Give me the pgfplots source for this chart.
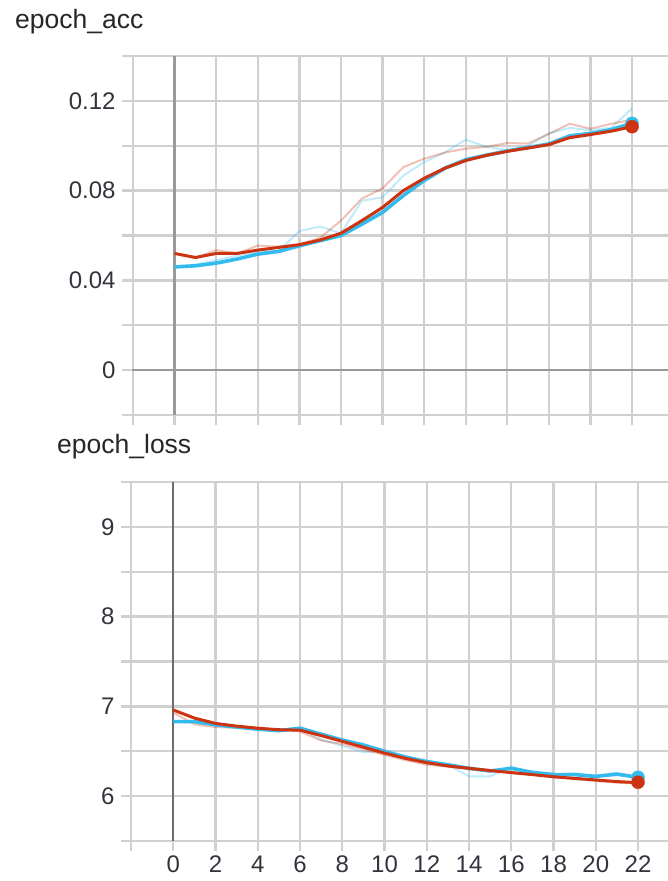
\documentclass[border=0pt]{standalone}
\usepackage{fontspec}
\setmainfont{Liberation Sans}
\usepackage{pgfplots}
\pgfplotsset{compat=1.18}
\definecolor{tbblue}{HTML}{33BBEE}
\definecolor{tbred}{HTML}{CC3311}
\definecolor{gridc}{HTML}{D0D0D0}
\definecolor{labc}{HTML}{33333C}
\pgfplotsset{tb/.style={
  scale only axis,
  axis line style={draw=none},
  grid=major,
  major grid style={draw=gridc, line width=2.3pt},
  tick style={draw=gridc, line width=2.3pt},
  major tick length=10pt,
  tick align=outside,
  xtick pos=left, ytick pos=left,
  ticklabel style={font=\fontsize{24}{24}\selectfont, text=labc},
  yticklabel style={xshift=-3pt},
  xticklabel style={yshift=-4pt, inner sep=1pt},
  raw/.style={line width=2pt, opacity=0.3},
}}
\begin{document}
\begin{tikzpicture}
\useasboundingbox (0pt,0pt) rectangle (668pt,-881pt);
\node[anchor=base west, font=\fontsize{26.5}{26.5}\selectfont, text=black!85, inner sep=0pt] at (15pt,-28pt) {epoch\_acc};
\node[anchor=base west, font=\fontsize{26.5}{26.5}\selectfont, text=black!85, inner sep=0pt] at (57pt,-453pt) {epoch\_loss};
% ---------- top: accuracy ----------
\begin{axis}[tb, at={(132pt,-415pt)}, anchor=south west,
  width=536pt, height=359pt,
  xmin=-2.05, xmax=23.73, ymin=-0.02, ymax=0.14,
  xtick={-2,0,2,4,6,8,10,12,14,16,18,20,22}, xticklabels={},
  ytick={-0.02,0,0.02,0.04,0.06,0.08,0.1,0.12,0.14},
  yticklabels={,0,,0.04,,0.08,,0.12,},
  extra x ticks={0}, extra x tick labels={},
  extra y ticks={0}, extra y tick labels={},
  extra tick style={major grid style={draw=gray!80, line width=2.5pt}}]
\addplot[tbblue, raw] coordinates {(0,0.046)(1,0.047)(2,0.049)(3,0.051)(4,0.053)(5,0.053)(6,0.062)(7,0.064)(8,0.061)(9,0.0755)(10,0.077)(11,0.0867)(12,0.0927)(13,0.097)(14,0.1027)(15,0.0995)(16,0.098)(17,0.100)(18,0.1055)(19,0.108)(20,0.107)(21,0.108)(22,0.1167)};
\addplot[tbred, raw] coordinates {(0,0.052)(1,0.050)(2,0.0535)(3,0.052)(4,0.0555)(5,0.055)(6,0.056)(7,0.059)(8,0.0666)(9,0.0764)(10,0.081)(11,0.0905)(12,0.0942)(13,0.097)(14,0.0987)(15,0.0995)(16,0.1012)(17,0.101)(18,0.1053)(19,0.1098)(20,0.1076)(21,0.1098)(22,0.1116)};
\addplot[tbblue, line width=3.6pt] coordinates {(0,0.0460)(1,0.0465)(2,0.0477)(3,0.0495)(4,0.0517)(5,0.0529)(6,0.0554)(7,0.0577)(8,0.0600)(9,0.0650)(10,0.0703)(11,0.0778)(12,0.0845)(13,0.0900)(14,0.0938)(15,0.0958)(16,0.0977)(17,0.0992)(18,0.1008)(19,0.1044)(20,0.1055)(21,0.1072)(22,0.1100)};
\addplot[tbred, line width=3pt] coordinates {(0,0.0520)(1,0.0502)(2,0.0520)(3,0.0520)(4,0.0535)(5,0.0547)(6,0.0559)(7,0.0580)(8,0.0610)(9,0.0666)(10,0.0725)(11,0.0800)(12,0.0855)(13,0.0900)(14,0.0934)(15,0.0957)(16,0.0975)(17,0.0990)(18,0.1005)(19,0.1036)(20,0.1050)(21,0.1065)(22,0.1085)};
\addplot[only marks, mark=*, mark size=6.5pt, tbblue] coordinates {(22,0.1100)};
\addplot[only marks, mark=*, mark size=6.5pt, tbred] coordinates {(22,0.1085)};
\end{axis}
% ---------- bottom: loss ----------
\begin{axis}[tb, at={(131pt,-841pt)}, anchor=south west,
  width=537pt, height=359pt,
  xmin=-2.0, xmax=23.42, ymin=5.5, ymax=9.5,
  xtick={-2,0,2,4,6,8,10,12,14,16,18,20,22},
  xticklabels={,0,2,4,6,8,10,12,14,16,18,20,22},
  ytick={5.5,6,6.5,7,7.5,8,8.5,9,9.5},
  yticklabels={,6,,7,,8,,9,},
  extra x ticks={0}, extra x tick labels={},
  extra tick style={major grid style={draw=gray!85!black, line width=2pt}}]
\addplot[tbblue, raw] coordinates {(0,6.83)(1,6.82)(2,6.79)(3,6.77)(4,6.75)(5,6.72)(6,6.76)(7,6.63)(8,6.56)(9,6.49)(10,6.50)(11,6.42)(12,6.37)(13,6.35)(14,6.22)(15,6.22)(16,6.33)(17,6.26)(18,6.24)(19,6.255)(20,6.22)(21,6.26)(22,6.21)};
\addplot[tbred, raw] coordinates {(0,6.93)(1,6.80)(2,6.77)(3,6.76)(4,6.75)(5,6.74)(6,6.72)(7,6.62)(8,6.58)(9,6.52)(10,6.46)(11,6.40)(12,6.35)(13,6.33)(14,6.30)(15,6.28)(16,6.27)(17,6.24)(18,6.21)(19,6.19)(20,6.17)(21,6.15)(22,6.14)};
\addplot[tbblue, line width=3.6pt] coordinates {(0,6.83)(1,6.83)(2,6.795)(3,6.77)(4,6.746)(5,6.73)(6,6.757)(7,6.69)(8,6.625)(9,6.57)(10,6.50)(11,6.435)(12,6.385)(13,6.35)(14,6.31)(15,6.28)(16,6.31)(17,6.265)(18,6.24)(19,6.24)(20,6.22)(21,6.245)(22,6.21)};
\addplot[tbred, line width=3pt] coordinates {(0,6.96)(1,6.87)(2,6.81)(3,6.78)(4,6.757)(5,6.74)(6,6.735)(7,6.675)(8,6.61)(9,6.545)(10,6.48)(11,6.42)(12,6.373)(13,6.336)(14,6.31)(15,6.285)(16,6.262)(17,6.24)(18,6.216)(19,6.198)(20,6.18)(21,6.162)(22,6.15)};
\addplot[only marks, mark=*, mark size=6.5pt, tbblue] coordinates {(22,6.21)};
\addplot[only marks, mark=*, mark size=6.5pt, tbred] coordinates {(22,6.155)};
\end{axis}
\end{tikzpicture}
\end{document}
